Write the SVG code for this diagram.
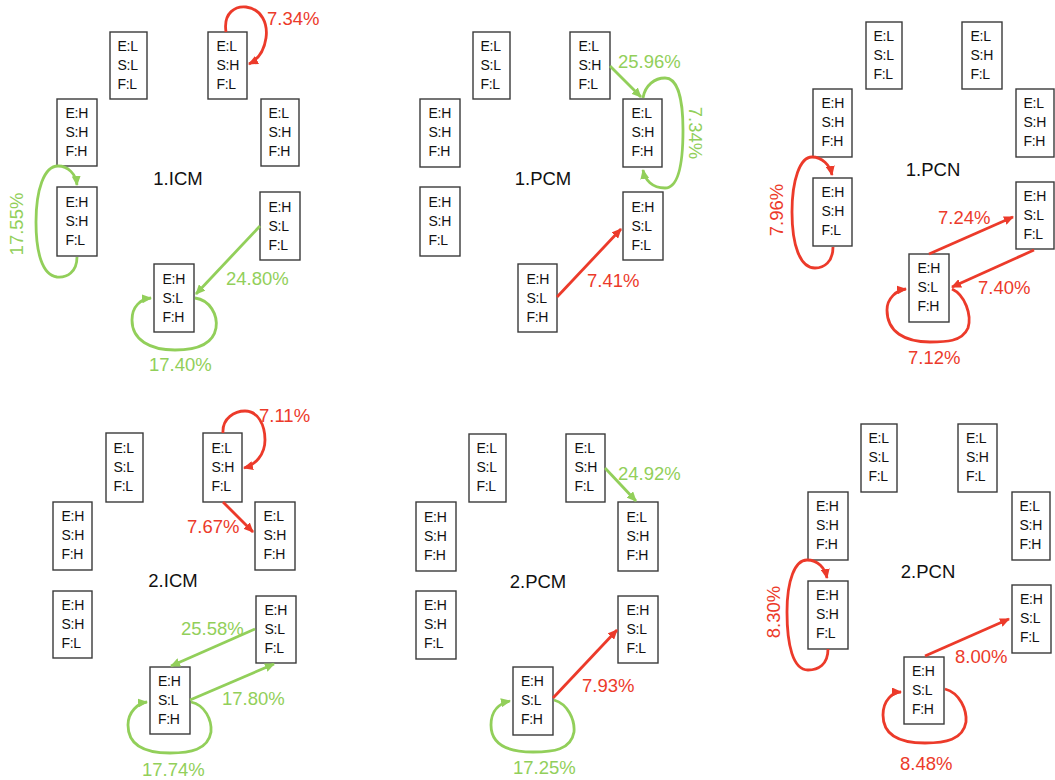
<svg xmlns="http://www.w3.org/2000/svg" width="1055" height="780" viewBox="0 0 1055 780">
<style>
.bx rect{fill:#fff;stroke:#3a3a3a;stroke-width:1.4}
.bx text{font-family:"Liberation Sans",Arial,sans-serif;font-size:14px;fill:#111;letter-spacing:-0.3px}
.ttl{font-family:"Liberation Sans",Arial,sans-serif;font-size:18.5px;fill:#111;text-anchor:middle}
.lbl{font-family:"Liberation Sans",Arial,sans-serif;font-size:18.5px}
.r{fill:#ec3a2a}
.g{fill:#92cf5a}
.er{fill:none;stroke:#ec3a2a;stroke-width:2.8;marker-end:url(#ar)}
.eg{fill:none;stroke:#92cf5a;stroke-width:2.8;marker-end:url(#ag)}
</style>
<defs>
<marker id="ar" markerUnits="userSpaceOnUse" markerWidth="11" markerHeight="9" refX="9" refY="4.5" orient="auto"><path d="M0,0 L10,4.5 L0,9 z" fill="#ec3a2a"/></marker>
<marker id="ag" markerUnits="userSpaceOnUse" markerWidth="11" markerHeight="9" refX="9" refY="4.5" orient="auto"><path d="M0,0 L10,4.5 L0,9 z" fill="#92cf5a"/></marker>
</defs>
<rect width="1055" height="780" fill="#fff"/>

<!-- Panel 1.ICM -->
<g id="p1-LLL" class="bx"><rect x="110" y="32" width="37" height="67"/><text x="117.5" y="51"><tspan x="117.5">E:L</tspan><tspan x="117.5" dy="19">S:L</tspan><tspan x="117.5" dy="19">F:L</tspan></text></g>
<g id="p1-LHL" class="bx"><rect x="208" y="32" width="39" height="67"/><text x="216.5" y="51"><tspan x="216.5">E:L</tspan><tspan x="216.5" dy="19">S:H</tspan><tspan x="216.5" dy="19">F:L</tspan></text></g>
<g id="p1-HHH" class="bx"><rect x="57" y="99" width="40" height="67"/><text x="65.5" y="118"><tspan x="65.5">E:H</tspan><tspan x="65.5" dy="19">S:H</tspan><tspan x="65.5" dy="19">F:H</tspan></text></g>
<g id="p1-LHH" class="bx"><rect x="261" y="99" width="38" height="67"/><text x="268.5" y="118"><tspan x="268.5">E:L</tspan><tspan x="268.5" dy="19">S:H</tspan><tspan x="268.5" dy="19">F:H</tspan></text></g>
<g id="p1-HHL" class="bx"><rect x="57" y="187" width="40" height="69"/><text x="65.5" y="207"><tspan x="65.5">E:H</tspan><tspan x="65.5" dy="19">S:H</tspan><tspan x="65.5" dy="19">F:L</tspan></text></g>
<g id="p1-HLL" class="bx"><rect x="260" y="192" width="40" height="68"/><text x="268.5" y="211.5"><tspan x="268.5">E:H</tspan><tspan x="268.5" dy="19">S:L</tspan><tspan x="268.5" dy="19">F:L</tspan></text></g>
<g id="p1-HLH" class="bx"><rect x="154" y="264" width="40" height="68"/><text x="162.5" y="283.5"><tspan x="162.5">E:H</tspan><tspan x="162.5" dy="19">S:L</tspan><tspan x="162.5" dy="19">F:H</tspan></text></g>
<text class="ttl" x="178" y="185">1.ICM</text>

<!-- Panel 1.PCM -->
<g id="p2-LLL" class="bx"><rect x="473" y="32" width="37" height="67"/><text x="480.5" y="51"><tspan x="480.5">E:L</tspan><tspan x="480.5" dy="19">S:L</tspan><tspan x="480.5" dy="19">F:L</tspan></text></g>
<g id="p2-LHL" class="bx"><rect x="570" y="32" width="40" height="67"/><text x="578.5" y="51"><tspan x="578.5">E:L</tspan><tspan x="578.5" dy="19">S:H</tspan><tspan x="578.5" dy="19">F:L</tspan></text></g>
<g id="p2-HHH" class="bx"><rect x="420" y="99" width="40" height="68"/><text x="428.5" y="118"><tspan x="428.5">E:H</tspan><tspan x="428.5" dy="19">S:H</tspan><tspan x="428.5" dy="19">F:H</tspan></text></g>
<g id="p2-LHH" class="bx"><rect x="623" y="99" width="39" height="68"/><text x="631.5" y="118"><tspan x="631.5">E:L</tspan><tspan x="631.5" dy="19">S:H</tspan><tspan x="631.5" dy="19">F:H</tspan></text></g>
<g id="p2-HHL" class="bx"><rect x="420" y="187" width="40" height="69"/><text x="428.5" y="207"><tspan x="428.5">E:H</tspan><tspan x="428.5" dy="19">S:H</tspan><tspan x="428.5" dy="19">F:L</tspan></text></g>
<g id="p2-HLL" class="bx"><rect x="623" y="192" width="40" height="68"/><text x="631.5" y="211.5"><tspan x="631.5">E:H</tspan><tspan x="631.5" dy="19">S:L</tspan><tspan x="631.5" dy="19">F:L</tspan></text></g>
<g id="p2-HLH" class="bx"><rect x="518" y="264" width="39" height="68"/><text x="526.5" y="283.5"><tspan x="526.5">E:H</tspan><tspan x="526.5" dy="19">S:L</tspan><tspan x="526.5" dy="19">F:H</tspan></text></g>
<text class="ttl" x="543" y="185">1.PCM</text>

<!-- Panel 1.PCN -->
<g id="p3-LLL" class="bx"><rect x="866" y="22" width="36" height="67"/><text x="873.5" y="41"><tspan x="873.5">E:L</tspan><tspan x="873.5" dy="19">S:L</tspan><tspan x="873.5" dy="19">F:L</tspan></text></g>
<g id="p3-LHL" class="bx"><rect x="962" y="22" width="40" height="67"/><text x="970.5" y="41"><tspan x="970.5">E:L</tspan><tspan x="970.5" dy="19">S:H</tspan><tspan x="970.5" dy="19">F:L</tspan></text></g>
<g id="p3-HHH" class="bx"><rect x="813" y="89" width="39" height="68"/><text x="821.5" y="108"><tspan x="821.5">E:H</tspan><tspan x="821.5" dy="19">S:H</tspan><tspan x="821.5" dy="19">F:H</tspan></text></g>
<g id="p3-LHH" class="bx"><rect x="1016" y="89" width="38" height="68"/><text x="1023.5" y="108"><tspan x="1023.5">E:L</tspan><tspan x="1023.5" dy="19">S:H</tspan><tspan x="1023.5" dy="19">F:H</tspan></text></g>
<g id="p3-HHL" class="bx"><rect x="813" y="178" width="39" height="68"/><text x="821.5" y="197"><tspan x="821.5">E:H</tspan><tspan x="821.5" dy="19">S:H</tspan><tspan x="821.5" dy="19">F:L</tspan></text></g>
<g id="p3-HLL" class="bx"><rect x="1016" y="182" width="38" height="67"/><text x="1023.5" y="201"><tspan x="1023.5">E:H</tspan><tspan x="1023.5" dy="19">S:L</tspan><tspan x="1023.5" dy="19">F:L</tspan></text></g>
<g id="p3-HLH" class="bx"><rect x="909" y="254" width="40" height="68"/><text x="917.5" y="273"><tspan x="917.5">E:H</tspan><tspan x="917.5" dy="19">S:L</tspan><tspan x="917.5" dy="19">F:H</tspan></text></g>
<text class="ttl" x="933" y="176">1.PCN</text>

<!-- Panel 2.ICM -->
<g id="p4-LLL" class="bx"><rect x="106" y="433" width="37" height="69"/><text x="113.5" y="453"><tspan x="113.5">E:L</tspan><tspan x="113.5" dy="19">S:L</tspan><tspan x="113.5" dy="19">F:L</tspan></text></g>
<g id="p4-LHL" class="bx"><rect x="203" y="433" width="39" height="69"/><text x="211.5" y="453"><tspan x="211.5">E:L</tspan><tspan x="211.5" dy="19">S:H</tspan><tspan x="211.5" dy="19">F:L</tspan></text></g>
<g id="p4-HHH" class="bx"><rect x="53" y="502" width="39" height="68"/><text x="61.5" y="521"><tspan x="61.5">E:H</tspan><tspan x="61.5" dy="19">S:H</tspan><tspan x="61.5" dy="19">F:H</tspan></text></g>
<g id="p4-LHH" class="bx"><rect x="255" y="502" width="40" height="68"/><text x="263.5" y="521"><tspan x="263.5">E:L</tspan><tspan x="263.5" dy="19">S:H</tspan><tspan x="263.5" dy="19">F:H</tspan></text></g>
<g id="p4-HHL" class="bx"><rect x="53" y="591" width="39" height="67"/><text x="61.5" y="610"><tspan x="61.5">E:H</tspan><tspan x="61.5" dy="19">S:H</tspan><tspan x="61.5" dy="19">F:L</tspan></text></g>
<g id="p4-HLL" class="bx"><rect x="256" y="596" width="40" height="67"/><text x="264.5" y="615"><tspan x="264.5">E:H</tspan><tspan x="264.5" dy="19">S:L</tspan><tspan x="264.5" dy="19">F:L</tspan></text></g>
<g id="p4-HLH" class="bx"><rect x="150" y="667" width="40" height="67"/><text x="158" y="686"><tspan x="158">E:H</tspan><tspan x="158" dy="19">S:L</tspan><tspan x="158" dy="19">F:H</tspan></text></g>
<text class="ttl" x="173" y="587">2.ICM</text>

<!-- Panel 2.PCM -->
<g id="p5-LLL" class="bx"><rect x="469" y="434" width="37" height="68"/><text x="476.5" y="453"><tspan x="476.5">E:L</tspan><tspan x="476.5" dy="19">S:L</tspan><tspan x="476.5" dy="19">F:L</tspan></text></g>
<g id="p5-LHL" class="bx"><rect x="566" y="434" width="39" height="68"/><text x="574.5" y="453"><tspan x="574.5">E:L</tspan><tspan x="574.5" dy="19">S:H</tspan><tspan x="574.5" dy="19">F:L</tspan></text></g>
<g id="p5-HHH" class="bx"><rect x="416" y="502" width="40" height="69"/><text x="424" y="521.5"><tspan x="424">E:H</tspan><tspan x="424" dy="19">S:H</tspan><tspan x="424" dy="19">F:H</tspan></text></g>
<g id="p5-LHH" class="bx"><rect x="618" y="502" width="40" height="69"/><text x="626.5" y="521.5"><tspan x="626.5">E:L</tspan><tspan x="626.5" dy="19">S:H</tspan><tspan x="626.5" dy="19">F:H</tspan></text></g>
<g id="p5-HHL" class="bx"><rect x="416" y="591" width="40" height="68"/><text x="424" y="610"><tspan x="424">E:H</tspan><tspan x="424" dy="19">S:H</tspan><tspan x="424" dy="19">F:L</tspan></text></g>
<g id="p5-HLL" class="bx"><rect x="618" y="596" width="40" height="67"/><text x="626.5" y="615"><tspan x="626.5">E:H</tspan><tspan x="626.5" dy="19">S:L</tspan><tspan x="626.5" dy="19">F:L</tspan></text></g>
<g id="p5-HLH" class="bx"><rect x="513" y="667" width="40" height="68"/><text x="521" y="686"><tspan x="521">E:H</tspan><tspan x="521" dy="19">S:L</tspan><tspan x="521" dy="19">F:H</tspan></text></g>
<text class="ttl" x="538" y="588">2.PCM</text>

<!-- Panel 2.PCN -->
<g id="p6-LLL" class="bx"><rect x="861" y="424" width="36" height="68"/><text x="868.5" y="443"><tspan x="868.5">E:L</tspan><tspan x="868.5" dy="19">S:L</tspan><tspan x="868.5" dy="19">F:L</tspan></text></g>
<g id="p6-LHL" class="bx"><rect x="958" y="424" width="39" height="68"/><text x="966" y="443"><tspan x="966">E:L</tspan><tspan x="966" dy="19">S:H</tspan><tspan x="966" dy="19">F:L</tspan></text></g>
<g id="p6-HHH" class="bx"><rect x="808" y="492" width="40" height="68"/><text x="816" y="511"><tspan x="816">E:H</tspan><tspan x="816" dy="19">S:H</tspan><tspan x="816" dy="19">F:H</tspan></text></g>
<g id="p6-LHH" class="bx"><rect x="1012" y="492" width="38" height="68"/><text x="1019.5" y="511"><tspan x="1019.5">E:L</tspan><tspan x="1019.5" dy="19">S:H</tspan><tspan x="1019.5" dy="19">F:H</tspan></text></g>
<g id="p6-HHL" class="bx"><rect x="808" y="581" width="40" height="68"/><text x="816" y="600"><tspan x="816">E:H</tspan><tspan x="816" dy="19">S:H</tspan><tspan x="816" dy="19">F:L</tspan></text></g>
<g id="p6-HLL" class="bx"><rect x="1012" y="585" width="39" height="68"/><text x="1020" y="604"><tspan x="1020">E:H</tspan><tspan x="1020" dy="19">S:L</tspan><tspan x="1020" dy="19">F:L</tspan></text></g>
<g id="p6-HLH" class="bx"><rect x="904" y="657" width="40" height="67"/><text x="912" y="676"><tspan x="912">E:H</tspan><tspan x="912" dy="19">S:L</tspan><tspan x="912" dy="19">F:H</tspan></text></g>
<text class="ttl" x="928" y="578">2.PCN</text>

<!-- Connectors -->
<g id="connectors">
<!-- 1.ICM -->
<path class="er" d="M226,32 C223,12 236,6 246,7 C262,9 268,24 266,38 C264,52 257,60 249,64"/>
<path class="eg" d="M77,257 C77,272 67,278 57,277 C42,275 36,252 36,222 C36,190 44,166 58,166 C68,166 76,174 77,185"/>
<path class="eg" d="M260,226 L196,294"/>
<path class="eg" d="M195,298 C210,300 218,315 216,328 C213,345 195,350 175,350 C150,350 132,340 132,320 C132,306 141,299 151,298"/>
<!-- 1.PCM -->
<path class="eg" d="M610,66 L641,97"/>
<path class="eg" d="M643,98 C645,85 655,78 665,78 C678,78 683,100 683,130 C683,165 678,188 665,188 C652,188 645,180 643,170"/>
<path class="er" d="M557,297 L621,229"/>
<!-- 1.PCN -->
<path class="er" d="M833,247 C833,262 824,268 815,268 C800,268 792,245 792,212 C792,180 800,157 812,157 C822,157 830,165 832,175"/>
<path class="er" d="M929,254 L1013,217"/>
<path class="er" d="M1034,250 L952,287"/>
<path class="er" d="M952,289 C965,295 972,315 968,328 C962,342 945,342 930,342 C905,342 887,332 887,310 C887,298 897,290 906,289"/>
<!-- 2.ICM -->
<path class="er" d="M223,433 C222,418 235,411 245,411 C258,411 265,425 265,440 C265,455 255,465 244,468"/>
<path class="er" d="M223,502 L253,532"/>
<path class="eg" d="M255,629 L171,666"/>
<path class="eg" d="M190,700 L274,664"/>
<path class="eg" d="M191,702 C205,705 212,720 211,732 C208,750 190,753 170,753 C145,753 128,745 128,725 C128,712 138,703 147,702"/>
<!-- 2.PCM -->
<path class="eg" d="M605,468 L636,501"/>
<path class="er" d="M553,698 L617,630"/>
<path class="eg" d="M554,700 C568,704 575,720 574,732 C571,750 553,752 533,752 C508,752 491,745 491,725 C491,710 500,703 510,701"/>
<!-- 2.PCN -->
<path class="er" d="M828,649 C828,665 818,670 808,670 C793,670 787,645 787,612 C787,580 795,560 807,560 C818,560 825,568 827,578"/>
<path class="er" d="M925,656 L1009,619"/>
<path class="er" d="M945,689 C960,693 967,710 966,722 C963,740 945,743 925,743 C900,743 883,735 883,715 C883,700 893,692 901,692"/>
</g>

<!-- Labels -->
<g id="labels">
<text class="lbl r" x="267" y="25">7.34%</text>
<text class="lbl g" text-anchor="middle" transform="translate(23,224) rotate(-90)">17.55%</text>
<text class="lbl g" x="226" y="285">24.80%</text>
<text class="lbl g" x="149" y="371">17.40%</text>
<text class="lbl g" x="618" y="68">25.96%</text>
<text class="lbl g" text-anchor="middle" transform="translate(689,133) rotate(90)">7.34%</text>
<text class="lbl r" x="587" y="287">7.41%</text>
<text class="lbl r" text-anchor="middle" transform="translate(783,210) rotate(-90)">7.96%</text>
<text class="lbl r" x="938" y="224">7.24%</text>
<text class="lbl r" x="978" y="294">7.40%</text>
<text class="lbl r" x="908" y="364">7.12%</text>
<text class="lbl r" x="259" y="422">7.11%</text>
<text class="lbl r" x="187" y="533">7.67%</text>
<text class="lbl g" x="181" y="635">25.58%</text>
<text class="lbl g" x="222" y="705">17.80%</text>
<text class="lbl g" x="142" y="776">17.74%</text>
<text class="lbl g" x="618" y="480">24.92%</text>
<text class="lbl r" x="582" y="692">7.93%</text>
<text class="lbl g" x="513" y="774">17.25%</text>
<text class="lbl r" text-anchor="middle" transform="translate(780,612) rotate(-90)">8.30%</text>
<text class="lbl r" x="955" y="663">8.00%</text>
<text class="lbl r" x="900" y="770">8.48%</text>
</g>
</svg>
